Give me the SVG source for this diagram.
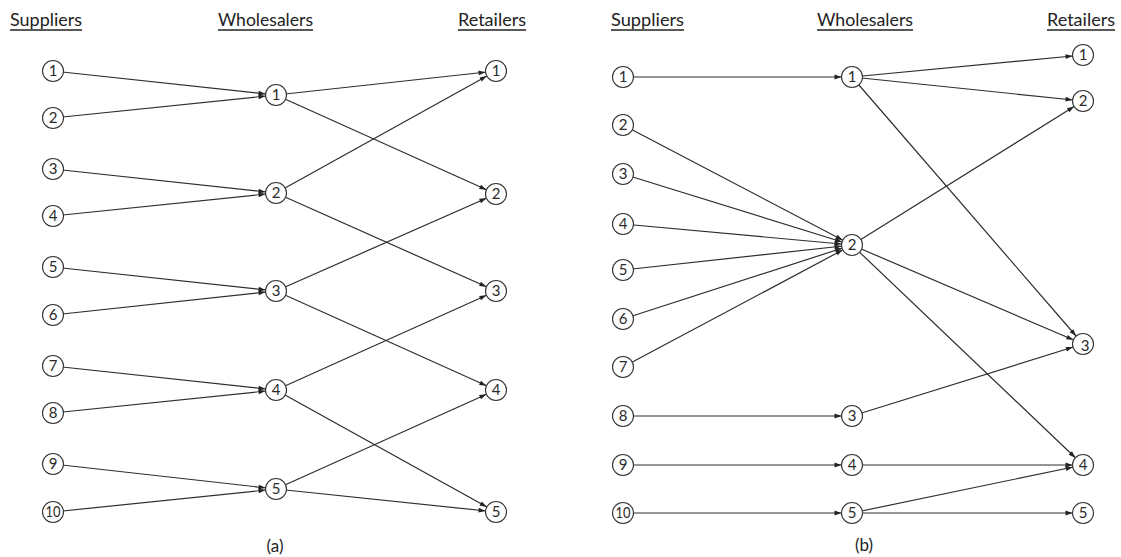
<svg xmlns="http://www.w3.org/2000/svg" width="1121" height="557" viewBox="0 0 1121 557">
<style>
.hdr{font-family:Lato,"Open Sans","Liberation Sans",sans-serif;font-size:18px;fill:#222}
.ul{stroke:#222;stroke-width:1.4}
.nd circle{fill:#fff;stroke:#333;stroke-width:1.1}
.nd text{font-family:Lato,"Open Sans","Liberation Sans",sans-serif;font-size:15px;fill:#2a2a2a;text-anchor:middle}
.cap{font-family:Lato,"Open Sans","Liberation Sans",sans-serif;font-size:17px;fill:#222;text-anchor:middle}
#edges line{stroke:#2e2e2e;stroke-width:1.2;marker-end:url(#ah)}
</style>
<defs>
<marker id="ah" markerUnits="userSpaceOnUse" markerWidth="20" markerHeight="8" refX="17.5" refY="4" orient="auto" overflow="visible">
<path d="M0,1.6 L7,4 L0,6.4 z" fill="#222"/>
</marker>
</defs>
<rect width="1121" height="557" fill="#fff"/>
<g id="headers">
<text class="hdr" x="10" y="26" textLength="72" lengthAdjust="spacingAndGlyphs">Suppliers</text>
<line class="ul" x1="10" y1="30" x2="82" y2="30"/>
<text class="hdr" x="218" y="26" textLength="95" lengthAdjust="spacingAndGlyphs">Wholesalers</text>
<line class="ul" x1="218" y1="30" x2="313" y2="30"/>
<text class="hdr" x="458" y="26" textLength="68" lengthAdjust="spacingAndGlyphs">Retailers</text>
<line class="ul" x1="458" y1="30" x2="526" y2="30"/>
<text class="hdr" x="611" y="26" textLength="73" lengthAdjust="spacingAndGlyphs">Suppliers</text>
<line class="ul" x1="611" y1="30" x2="684" y2="30"/>
<text class="hdr" x="817" y="26" textLength="96" lengthAdjust="spacingAndGlyphs">Wholesalers</text>
<line class="ul" x1="817" y1="30" x2="913" y2="30"/>
<text class="hdr" x="1047" y="26" textLength="68" lengthAdjust="spacingAndGlyphs">Retailers</text>
<line class="ul" x1="1047" y1="30" x2="1115" y2="30"/>
<text class="cap" x="275" y="552">(a)</text>
<text class="cap" x="864" y="551">(b)</text>
</g>
<g id="edges">
<line x1="53" y1="71" x2="276" y2="95"/>
<line x1="53" y1="118" x2="276" y2="95"/>
<line x1="53" y1="169" x2="276" y2="193"/>
<line x1="53" y1="216" x2="276" y2="193"/>
<line x1="53" y1="267" x2="276" y2="291"/>
<line x1="53" y1="315" x2="276" y2="291"/>
<line x1="53" y1="366" x2="276" y2="390"/>
<line x1="53" y1="413" x2="276" y2="390"/>
<line x1="53" y1="464" x2="276" y2="489"/>
<line x1="53" y1="512" x2="276" y2="489"/>
<line x1="276" y1="95" x2="496" y2="71"/>
<line x1="276" y1="95" x2="496" y2="194"/>
<line x1="276" y1="193" x2="496" y2="71"/>
<line x1="276" y1="193" x2="496" y2="291"/>
<line x1="276" y1="291" x2="496" y2="194"/>
<line x1="276" y1="291" x2="496" y2="390"/>
<line x1="276" y1="390" x2="496" y2="291"/>
<line x1="276" y1="390" x2="496" y2="512"/>
<line x1="276" y1="489" x2="496" y2="390"/>
<line x1="276" y1="489" x2="496" y2="512"/>
<line x1="623" y1="77" x2="852" y2="77"/>
<line x1="623" y1="125" x2="852" y2="245"/>
<line x1="623" y1="174" x2="852" y2="245"/>
<line x1="623" y1="224" x2="852" y2="245"/>
<line x1="623" y1="270" x2="852" y2="245"/>
<line x1="623" y1="319" x2="852" y2="245"/>
<line x1="623" y1="367" x2="852" y2="245"/>
<line x1="623" y1="416" x2="852" y2="416"/>
<line x1="623" y1="465" x2="852" y2="465"/>
<line x1="623" y1="513" x2="852" y2="513"/>
<line x1="852" y1="77" x2="1083" y2="55"/>
<line x1="852" y1="77" x2="1083" y2="101"/>
<line x1="852" y1="77" x2="1083" y2="344"/>
<line x1="852" y1="245" x2="1083" y2="101"/>
<line x1="852" y1="245" x2="1083" y2="344"/>
<line x1="852" y1="245" x2="1083" y2="465"/>
<line x1="852" y1="416" x2="1083" y2="344"/>
<line x1="852" y1="465" x2="1083" y2="465"/>
<line x1="852" y1="513" x2="1083" y2="465"/>
<line x1="852" y1="513" x2="1083" y2="513"/>
</g>
<g id="a-s1" class="nd"><circle cx="53" cy="71" r="10.5"/><text x="53" y="76">1</text></g>
<g id="a-s2" class="nd"><circle cx="53" cy="118" r="10.5"/><text x="53" y="123">2</text></g>
<g id="a-s3" class="nd"><circle cx="53" cy="169" r="10.5"/><text x="53" y="174">3</text></g>
<g id="a-s4" class="nd"><circle cx="53" cy="216" r="10.5"/><text x="53" y="221">4</text></g>
<g id="a-s5" class="nd"><circle cx="53" cy="267" r="10.5"/><text x="53" y="272">5</text></g>
<g id="a-s6" class="nd"><circle cx="53" cy="315" r="10.5"/><text x="53" y="320">6</text></g>
<g id="a-s7" class="nd"><circle cx="53" cy="366" r="10.5"/><text x="53" y="371">7</text></g>
<g id="a-s8" class="nd"><circle cx="53" cy="413" r="10.5"/><text x="53" y="418">8</text></g>
<g id="a-s9" class="nd"><circle cx="53" cy="464" r="10.5"/><text x="53" y="469">9</text></g>
<g id="a-s10" class="nd"><circle cx="53" cy="512" r="10.5"/><text x="53" y="517" textLength="15" lengthAdjust="spacingAndGlyphs">10</text></g>
<g id="a-w1" class="nd"><circle cx="276" cy="95" r="10.5"/><text x="276" y="100">1</text></g>
<g id="a-w2" class="nd"><circle cx="276" cy="193" r="10.5"/><text x="276" y="198">2</text></g>
<g id="a-w3" class="nd"><circle cx="276" cy="291" r="10.5"/><text x="276" y="296">3</text></g>
<g id="a-w4" class="nd"><circle cx="276" cy="390" r="10.5"/><text x="276" y="395">4</text></g>
<g id="a-w5" class="nd"><circle cx="276" cy="489" r="10.5"/><text x="276" y="494">5</text></g>
<g id="a-r1" class="nd"><circle cx="496" cy="71" r="10.5"/><text x="496" y="76">1</text></g>
<g id="a-r2" class="nd"><circle cx="496" cy="194" r="10.5"/><text x="496" y="199">2</text></g>
<g id="a-r3" class="nd"><circle cx="496" cy="291" r="10.5"/><text x="496" y="296">3</text></g>
<g id="a-r4" class="nd"><circle cx="496" cy="390" r="10.5"/><text x="496" y="395">4</text></g>
<g id="a-r5" class="nd"><circle cx="496" cy="512" r="10.5"/><text x="496" y="517">5</text></g>
<g id="b-s1" class="nd"><circle cx="623" cy="77" r="10.5"/><text x="623" y="82">1</text></g>
<g id="b-s2" class="nd"><circle cx="623" cy="125" r="10.5"/><text x="623" y="130">2</text></g>
<g id="b-s3" class="nd"><circle cx="623" cy="174" r="10.5"/><text x="623" y="179">3</text></g>
<g id="b-s4" class="nd"><circle cx="623" cy="224" r="10.5"/><text x="623" y="229">4</text></g>
<g id="b-s5" class="nd"><circle cx="623" cy="270" r="10.5"/><text x="623" y="275">5</text></g>
<g id="b-s6" class="nd"><circle cx="623" cy="319" r="10.5"/><text x="623" y="324">6</text></g>
<g id="b-s7" class="nd"><circle cx="623" cy="367" r="10.5"/><text x="623" y="372">7</text></g>
<g id="b-s8" class="nd"><circle cx="623" cy="416" r="10.5"/><text x="623" y="421">8</text></g>
<g id="b-s9" class="nd"><circle cx="623" cy="465" r="10.5"/><text x="623" y="470">9</text></g>
<g id="b-s10" class="nd"><circle cx="623" cy="513" r="10.5"/><text x="623" y="518" textLength="15" lengthAdjust="spacingAndGlyphs">10</text></g>
<g id="b-w1" class="nd"><circle cx="852" cy="77" r="10.5"/><text x="852" y="82">1</text></g>
<g id="b-w2" class="nd"><circle cx="852" cy="245" r="10.5"/><text x="852" y="250">2</text></g>
<g id="b-w3" class="nd"><circle cx="852" cy="416" r="10.5"/><text x="852" y="421">3</text></g>
<g id="b-w4" class="nd"><circle cx="852" cy="465" r="10.5"/><text x="852" y="470">4</text></g>
<g id="b-w5" class="nd"><circle cx="852" cy="513" r="10.5"/><text x="852" y="518">5</text></g>
<g id="b-r1" class="nd"><circle cx="1083" cy="55" r="10.5"/><text x="1083" y="60">1</text></g>
<g id="b-r2" class="nd"><circle cx="1083" cy="101" r="10.5"/><text x="1083" y="106">2</text></g>
<g id="b-r3" class="nd"><circle cx="1083" cy="344" r="10.5"/><text x="1085" y="351">3</text></g>
<g id="b-r4" class="nd"><circle cx="1083" cy="465" r="10.5"/><text x="1083" y="470">4</text></g>
<g id="b-r5" class="nd"><circle cx="1083" cy="513" r="10.5"/><text x="1083" y="518">5</text></g>
</svg>
